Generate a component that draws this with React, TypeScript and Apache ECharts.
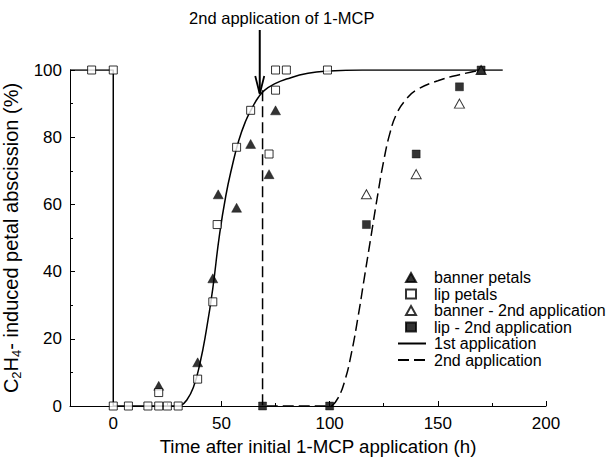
import React, { useEffect, useRef } from "react";
import * as echarts from "echarts";

// Data
const bannerPetals: number[][] = [[21, 6], [39, 13], [46, 38], [48.5, 63], [57, 59], [63.5, 78], [72, 69], [75, 88]];
const lipPetals: number[][] = [
  [-10, 100], [0, 100], [0, 0], [7, 0], [16, 0], [21, 0], [25, 0], [30, 0], [21, 4],
  [39, 8], [46, 31], [48, 54], [57, 77], [63.5, 88], [72, 75], [75, 94], [75, 100], [80, 100], [99, 100],
];
const banner2nd: number[][] = [[117, 63], [140, 69], [160, 90], [170, 100]];
const lip2nd: number[][] = [[69, 0], [100, 0], [117, 54], [140, 75], [160, 95], [170, 100]];

const firstAppStep: number[][] = [[-20, 100], [0, 100], [0, 0], [31, 0]];
const firstAppCurve: number[][] = [
  [31, 0], [34, 1.8], [37, 5.5], [40, 12.5], [43, 22.5], [46, 35], [49, 50.5], [52, 62.5], [55, 71.5],
  [58, 79], [61, 84.5], [64, 88.5], [67, 91.8], [70, 94], [75, 96], [80, 97.3], [90, 99], [100, 99.7],
  [115, 100], [180, 100],
];
const secondAppStep: number[][] = [[69, 94], [69, 0], [101, 0]];
const secondAppCurve: number[][] = [
  [101, 0], [104, 2.5], [107, 7.5], [110, 15.5], [113, 26], [116, 38], [119, 50], [122, 62],
  [125, 73], [128, 81.5], [131, 87], [135, 91], [140, 94], [150, 96.8], [160, 98.6], [170, 100],
];

const xLabelValues = [0, 50, 100, 150, 200];
const xMinorValues = [25, 75, 125, 175];
const markerLegend = ["banner petals", "lip petals", "banner - 2nd application", "lip - 2nd application"];
const lineLegend = ["1st application", "2nd application"];
const arrowX = 67.7;

const FONT = "Liberation Sans, Arial, Helvetica, sans-serif";

export default function App() {
  const ref = useRef<HTMLDivElement>(null);
  useEffect(() => {
    document.body.style.margin = "0";
    if (!ref.current) return;
    const chart = echarts.init(ref.current, undefined, { renderer: "svg" });
    const black = "#000";
    const dash = [11, 5];
    const legendText = { fontSize: 16, lineHeight: 16, color: black, fontFamily: FONT };
    const option: any = {
      animation: false,
      backgroundColor: "#fff",
      textStyle: { fontFamily: FONT, color: black },
      grid: { left: 70, right: 61, top: 70, bottom: 57, containLabel: false, outerBoundsMode: "none" },
      legend: [
        {
          data: markerLegend,
          orient: "vertical",
          left: 405,
          top: 269.5,
          padding: 0,
          itemWidth: 10,
          itemHeight: 9,
          itemGap: 0.5,
          textStyle: { ...legendText, padding: [0, 0, 0, 13] },
          selectedMode: false,
        },
        {
          data: lineLegend.map((n) => ({ name: n, itemStyle: { opacity: 0 } })),
          orient: "vertical",
          left: 397,
          top: 335.5,
          padding: 0,
          itemWidth: 28,
          itemHeight: 9,
          itemGap: 0.5,
          textStyle: { ...legendText, padding: [0, 0, 0, 3] },
          selectedMode: false,
        },
      ],
      xAxis: [
        {
          type: "value",
          min: -20,
          max: 200,
          position: "bottom",
          splitLine: { show: false },
          axisLine: { onZero: false, lineStyle: { color: black, width: 1 } },
          axisTick: { inside: true, length: 5, customValues: xLabelValues, lineStyle: { color: black } },
          axisLabel: { customValues: xLabelValues, fontSize: 17, color: black, margin: 9, fontFamily: FONT },
          name: "Time after initial 1-MCP application (h)",
          nameLocation: "middle",
          nameGap: 27,
          nameTextStyle: { fontSize: 18.7, color: black, fontFamily: FONT, padding: [0, 0, 0, 20] },
        },
        {
          type: "value",
          min: -20,
          max: 200,
          position: "bottom",
          splitLine: { show: false },
          axisLine: { show: false },
          axisTick: { inside: true, length: 3, customValues: xMinorValues, lineStyle: { color: black } },
          axisLabel: { show: false },
        },
      ],
      yAxis: {
        type: "value",
        min: 0,
        max: 100,
        interval: 20,
        splitLine: { show: false },
        axisLine: { show: true, onZero: false, lineStyle: { color: black, width: 1 } },
        axisTick: { show: true, inside: true, length: 5, lineStyle: { color: black } },
        minorTick: { show: true, splitNumber: 2, length: 3, lineStyle: { color: black } },
        axisLabel: { fontSize: 17, color: black, margin: 8, fontFamily: FONT },
        name: "{t|C}{s|2}{t|H}{s|4}{t|- induced petal abscission (%)}",
        nameLocation: "middle",
        nameGap: 28,
        nameRotate: 90,
        nameTextStyle: {
          fontFamily: FONT,
          color: black,
          rich: {
            t: { fontSize: 20, lineHeight: 24, fontFamily: FONT, color: black },
            s: { fontSize: 13, lineHeight: 13, verticalAlign: "bottom", fontFamily: FONT, color: black },
          },
        },
      },
      series: [
        {
          name: "1st application",
          type: "line",
          data: firstAppStep,
          showSymbol: false,
          symbol: "none",
          lineStyle: { color: black, width: 1.5 },
          itemStyle: { color: black },
          z: 1,
        },
        {
          name: "1st application",
          type: "line",
          data: firstAppCurve,
          smooth: 0.5,
          showSymbol: false,
          symbol: "none",
          lineStyle: { color: black, width: 1.5 },
          itemStyle: { color: black },
          z: 1,
        },
        {
          name: "2nd application",
          type: "line",
          data: secondAppStep,
          showSymbol: false,
          symbol: "none",
          lineStyle: { color: black, width: 1.5, type: dash },
          itemStyle: { color: black },
          z: 1,
        },
        {
          name: "2nd application",
          type: "line",
          data: secondAppCurve,
          smooth: 0.5,
          showSymbol: false,
          symbol: "none",
          lineStyle: { color: black, width: 1.5, type: dash },
          itemStyle: { color: black },
          z: 1,
        },
        {
          name: "banner petals",
          type: "scatter",
          data: bannerPetals,
          symbol: "triangle",
          symbolSize: [10, 9],
          itemStyle: { color: black, borderColor: black, borderWidth: 0.5 },
          z: 3,
        },
        {
          name: "lip petals",
          type: "scatter",
          data: lipPetals,
          symbol: "rect",
          symbolSize: 8,
          itemStyle: { color: "#fff", borderColor: black, borderWidth: 1 },
          z: 3,
        },
        {
          name: "banner - 2nd application",
          type: "scatter",
          data: banner2nd,
          symbol: "triangle",
          symbolSize: [10, 9],
          itemStyle: { color: "#fff", borderColor: black, borderWidth: 1 },
          z: 3,
        },
        {
          name: "lip - 2nd application",
          type: "scatter",
          data: lip2nd,
          symbol: "rect",
          symbolSize: 8,
          itemStyle: { color: black, borderColor: black, borderWidth: 0.5 },
          z: 4,
        },
      ],
    };
    chart.setOption(option);
    const ax = chart.convertToPixel({ gridIndex: 0 }, [arrowX, 100]) as number[];
    const px = ax[0];
    chart.setOption({
      graphic: [
        {
          type: "text",
          x: px + 22,
          y: 18,
          style: {
            text: "2nd application of 1-MCP",
            fontSize: 16.5,
            fontFamily: FONT,
            fill: black,
            align: "center",
            verticalAlign: "middle",
          },
        },
        {
          type: "line",
          shape: { x1: px, y1: 30, x2: px, y2: 93 },
          style: { stroke: black, lineWidth: 2 },
        },
        {
          type: "polyline",
          shape: { points: [[px - 4.5, 76], [px, 94], [px + 4.5, 76]] },
          style: { stroke: black, lineWidth: 1.8, fill: "none" },
        },
      ],
    });
    return () => chart.dispose();
  }, []);
  return <div ref={ref} style={{ width: 607, height: 463 }} />;
}
